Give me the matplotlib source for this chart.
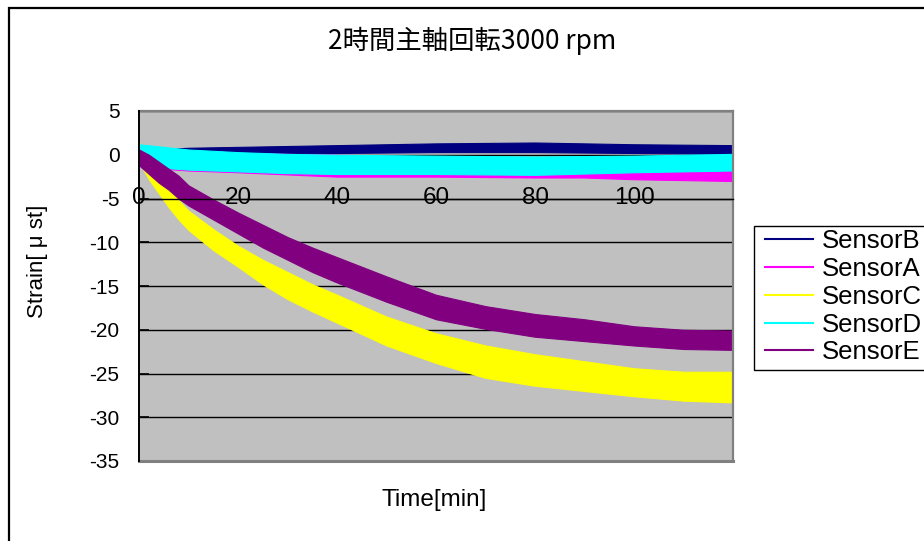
import matplotlib
matplotlib.use("Agg")
import matplotlib.pyplot as plt
from matplotlib.lines import Line2D
from matplotlib.patches import Rectangle

plt.rcParams['font.family'] = ['Liberation Sans', 'DejaVu Sans']
plt.rcParams['axes.unicode_minus'] = False

# ---- data: strain bands (upper / lower edge of each noisy trace) ----
time_b = [0, 10, 20, 40, 60, 80, 100, 120]
sensor_b_hi = [0.5, 0.8, 0.9, 1.1, 1.3, 1.4, 1.2, 1.1]
sensor_b_lo = [-0.5, 0.0, 0.1, 0.2, 0.3, 0.3, 0.2, 0.1]

time_a = [0, 5, 10, 20, 40, 60, 80, 90, 95, 100, 120]
sensor_a_hi = [0.5, 0.3, 0.3, 0.2, 0.0, -0.2, -0.3, -0.4, -0.8, -1.4, -1.3]
sensor_a_lo = [-1.0, -1.6, -1.8, -2.0, -2.5, -2.5, -2.6, -2.6, -2.7, -2.8, -3.0]

time_c = [0, 2, 4, 6, 8, 10, 15, 20, 25, 30, 35, 40, 50, 60, 70, 80, 90, 100, 110, 120]
sensor_c_hi = [1.4, -1.0, -2.6, -4.0, -5.2, -6.4, -8.5, -10.4, -12.0, -13.4, -14.8,
               -16.0, -18.5, -20.4, -21.8, -22.8, -23.6, -24.4, -24.8, -24.8]
sensor_c_lo = [-0.8, -2.8, -4.4, -6.0, -7.4, -8.6, -10.9, -12.8, -14.8, -16.5, -17.9,
               -19.2, -21.8, -23.8, -25.5, -26.4, -27.0, -27.6, -28.1, -28.3]

time_d = [0, 5, 10, 20, 30, 40, 60, 80, 100, 120]
sensor_d_hi = [1.2, 0.9, 0.6, 0.3, 0.1, 0.0, -0.1, -0.2, -0.1, 0.1]
sensor_d_lo = [-1.2, -1.5, -1.7, -1.9, -2.1, -2.2, -2.2, -2.3, -2.0, -1.8]

time_e = [0, 2, 4, 6, 8, 10, 15, 20, 25, 30, 35, 40, 50, 60, 70, 80, 90, 100, 110, 120]
sensor_e_hi = [0.6, 0.0, -0.8, -1.6, -2.4, -3.5, -5.1, -6.6, -8.0, -9.4, -10.6,
               -11.7, -13.9, -16.0, -17.3, -18.2, -18.8, -19.6, -20.0, -20.1]
sensor_e_lo = [-1.2, -2.2, -3.2, -4.0, -5.0, -5.8, -7.4, -9.0, -10.6, -12.0, -13.4,
               -14.6, -16.8, -18.8, -19.9, -20.8, -21.3, -21.8, -22.2, -22.3]

series_names = ['SensorB', 'SensorA', 'SensorC', 'SensorD', 'SensorE']
series_colors = ['#000080', '#FF00FF', '#FFFF00', '#00FFFF', '#800080']
series_data = [
    (time_b, sensor_b_hi, sensor_b_lo),
    (time_a, sensor_a_hi, sensor_a_lo),
    (time_c, sensor_c_hi, sensor_c_lo),
    (time_d, sensor_d_hi, sensor_d_lo),
    (time_e, sensor_e_hi, sensor_e_lo),
]

x_ticks = [0, 20, 40, 60, 80, 100]
x_tick_labels = ['0', '20', '40', '60', '80', '100']
y_ticks = [5, 0, -5, -10, -15, -20, -25, -30, -35]
y_tick_labels = ['5', '0', '-5', '-10', '-15', '-20', '-25', '-30', '-35']

title_text = '2時間主軸回転3000 rpm'
x_label = 'Time[min]'
y_label = 'Strain[ μ st]'

# ---- figure ----
W, H, DPI = 924, 541, 100
fig = plt.figure(figsize=(W / DPI, H / DPI), dpi=DPI, facecolor='white')


def px(x, y):
    """pixel position -> figure fraction"""
    return x / W, 1 - y / H


def open_frame(x0, y0, x1, y1, **kw):
    """three-sided frame whose right side runs off the canvas"""
    (fx0, fy0), (fx1, fy1) = px(x0, y0), px(x1, y1)
    fig.add_artist(Line2D([fx1, fx0, fx0, fx1], [fy0, fy0, fy1, fy1],
                          transform=fig.transFigure, solid_joinstyle='miter', **kw))


# outer chart border
open_frame(8.5, 7.5, 960, 580, color='black', linewidth=1.6)

left, right, top, bottom = 139, 733, 111, 461
ax = fig.add_axes([left / W, 1 - bottom / H, (right - left) / W, (bottom - top) / H])
ax.set_facecolor('#C0C0C0')
ax.set_xlim(0, 120)
ax.set_ylim(-35, 5)

for y in y_ticks:
    ax.axhline(y, color='black', linewidth=1.0, zorder=1)

for (t, hi, lo), color in zip(series_data, series_colors):
    ax.fill_between(t, lo, hi, color=color, linewidth=0.8, edgecolor=color, zorder=2)

# plot-area frame
for side in ('top', 'right'):
    ax.spines[side].set_color('#808080')
    ax.spines[side].set_linewidth(1.6)
ax.spines['left'].set_color('black')
ax.spines['left'].set_linewidth(1.4)
ax.spines['left'].set_zorder(4)
ax.add_artist(Line2D([0, 1], [0, 0], transform=ax.transAxes, color='#808080',
                     linewidth=2.2, clip_on=False, zorder=3))

# category axis crosses at -5
ax.spines['bottom'].set_position(('data', -5))
ax.spines['bottom'].set_color('black')
ax.spines['bottom'].set_linewidth(1.0)
ax.set_xticks(x_ticks, labels=x_tick_labels)
ax.tick_params(axis='x', length=0, pad=-8.2, labelsize=17.5)

ax.set_yticks(y_ticks, labels=y_tick_labels)
ax.tick_params(axis='y', direction='in', length=7, width=1.2, pad=14, labelsize=15)

fig.text(*px(471.7, 41), title_text, ha='center', va='center', fontsize=19,
         family=['Noto Sans CJK JP', 'DejaVu Sans'])
fig.text(*px(434, 500), x_label, ha='center', va='center', fontsize=17.5)
fig.text(*px(37, 261), y_label, ha='center', va='center', rotation=90, fontsize=16)

# legend (frame drawn separately, it runs past the right edge)
handles = [Line2D([], [], color=c, linewidth=1.5) for c in series_colors]
fig.legend(handles, series_names, loc='upper left',
           bbox_to_anchor=px(765, 229), bbox_transform=fig.transFigure,
           fontsize=18.5, frameon=False, borderaxespad=0, borderpad=0,
           handlelength=1.87, handletextpad=0.35, labelspacing=0.15)
open_frame(754, 226, 960, 370, color='black', linewidth=1.0)

fig.savefig('out.png', dpi=DPI, facecolor='white')
